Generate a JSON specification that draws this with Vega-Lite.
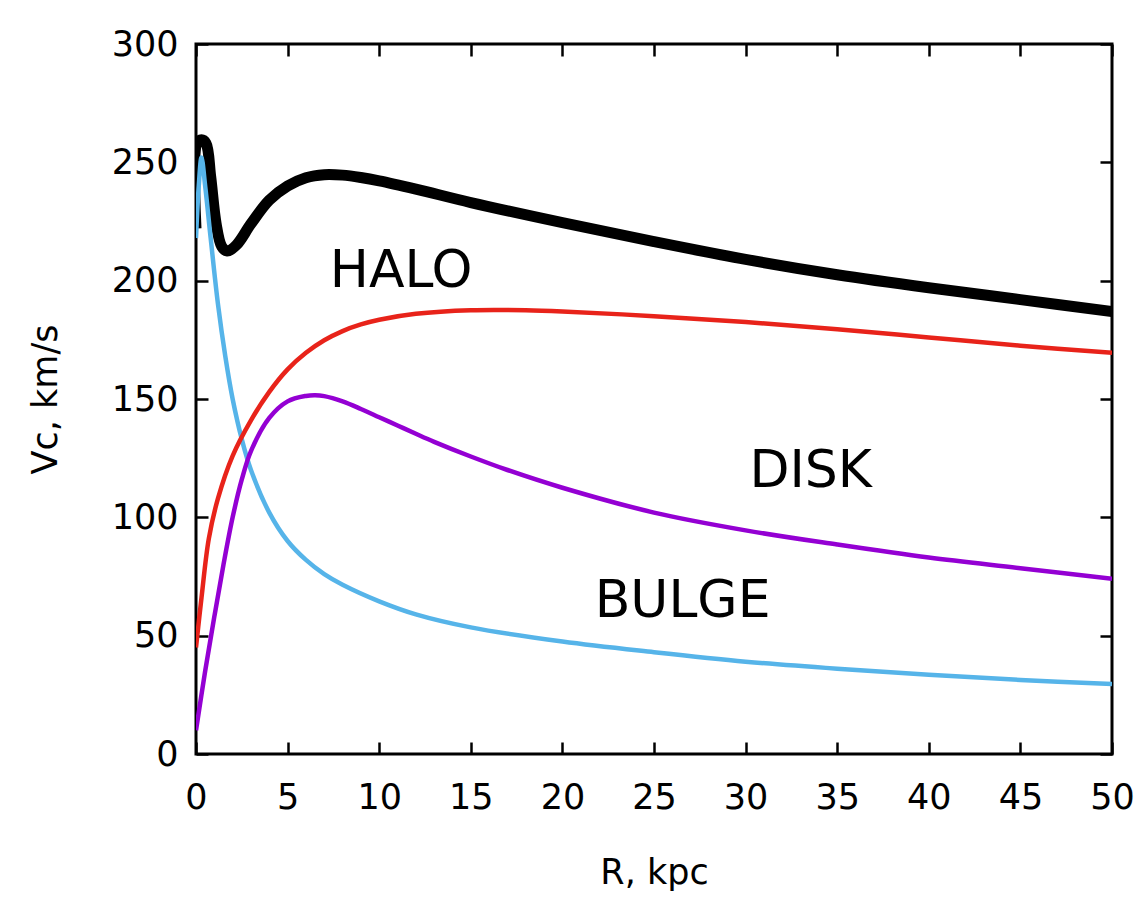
{
  "$schema": "https://vega.github.io/schema/vega-lite/v6.json",
  "width": 916,
  "height": 710,
  "autosize": "none",
  "padding": {"left": 196, "top": 44, "right": 29, "bottom": 144},
  "background": "white",
  "config": {
    "font": "DejaVu Sans",
    "view": {"stroke": "black", "strokeWidth": 3},
    "axis": {"grid": false, "domain": false, "tickColor": "black", "tickWidth": 2.5, "labelColor": "black", "titleColor": "black", "labelFont": "DejaVu Sans", "titleFont": "DejaVu Sans", "titleFontWeight": "normal", "labelFlush": false}
  },
  "datasets": {
    "halo": [
      {"R": 0, "V": 222}, {"R": 0.05, "V": 258}, {"R": 0.3, "V": 259.5}, {"R": 0.55, "V": 258},
      {"R": 0.8, "V": 244}, {"R": 1.1, "V": 224}, {"R": 1.4, "V": 214.5}, {"R": 1.7, "V": 212.5},
      {"R": 2.2, "V": 215}, {"R": 3, "V": 224}, {"R": 4, "V": 234}, {"R": 5, "V": 240},
      {"R": 6, "V": 243.5}, {"R": 7, "V": 244.8}, {"R": 8, "V": 244.6}, {"R": 9, "V": 243.6}, {"R": 10, "V": 242.2},
      {"R": 12, "V": 238.7}, {"R": 15, "V": 233}, {"R": 20, "V": 224.5}, {"R": 25, "V": 216.5},
      {"R": 30, "V": 209}, {"R": 35, "V": 202.5}, {"R": 40, "V": 197}, {"R": 45, "V": 192},
      {"R": 50, "V": 187}
    ],
    "bulge": [
      {"R": 0, "V": 218}, {"R": 0.15, "V": 240}, {"R": 0.3, "V": 252}, {"R": 0.5, "V": 240},
      {"R": 0.8, "V": 218}, {"R": 1.2, "V": 190}, {"R": 1.6, "V": 168}, {"R": 2, "V": 150},
      {"R": 2.5, "V": 133}, {"R": 3, "V": 120}, {"R": 4, "V": 102}, {"R": 5, "V": 90},
      {"R": 6, "V": 82}, {"R": 7, "V": 76}, {"R": 8, "V": 71.5}, {"R": 10, "V": 64.5},
      {"R": 12, "V": 59}, {"R": 15, "V": 53.5}, {"R": 20, "V": 47.5}, {"R": 25, "V": 43},
      {"R": 30, "V": 39}, {"R": 35, "V": 36}, {"R": 40, "V": 33.5}, {"R": 45, "V": 31.3},
      {"R": 50, "V": 29.6}
    ],
    "red": [
      {"R": 0, "V": 45}, {"R": 0.3, "V": 66}, {"R": 0.7, "V": 91}, {"R": 1.2, "V": 108},
      {"R": 2, "V": 126}, {"R": 3, "V": 141}, {"R": 4, "V": 153}, {"R": 5, "V": 162.5},
      {"R": 6, "V": 169.5}, {"R": 7, "V": 174.8}, {"R": 8, "V": 178.7}, {"R": 9, "V": 181.5}, {"R": 10, "V": 183.5},
      {"R": 12, "V": 186}, {"R": 15, "V": 187.5}, {"R": 18, "V": 187.5}, {"R": 20, "V": 187},
      {"R": 25, "V": 185}, {"R": 30, "V": 182.5}, {"R": 35, "V": 179.5}, {"R": 40, "V": 176},
      {"R": 45, "V": 172.5}, {"R": 50, "V": 169.5}
    ],
    "purple": [
      {"R": 0, "V": 10}, {"R": 0.5, "V": 35}, {"R": 1, "V": 58}, {"R": 1.5, "V": 80},
      {"R": 2, "V": 100}, {"R": 2.5, "V": 116}, {"R": 3, "V": 128}, {"R": 4, "V": 142},
      {"R": 5, "V": 149}, {"R": 6, "V": 151.3}, {"R": 6.5, "V": 151.6}, {"R": 7, "V": 151.2}, {"R": 8, "V": 149},
      {"R": 9, "V": 145.8}, {"R": 10, "V": 142.3}, {"R": 11, "V": 138.8}, {"R": 12, "V": 135.3}, {"R": 13, "V": 131.9},
      {"R": 15, "V": 125.7}, {"R": 17, "V": 120}, {"R": 20, "V": 112.5},
      {"R": 25, "V": 102}, {"R": 30, "V": 94.5}, {"R": 35, "V": 88.5}, {"R": 40, "V": 83},
      {"R": 45, "V": 78.5}, {"R": 50, "V": 74}
    ],
    "labels": [
      {"R": 11.2, "V": 204, "label": "HALO"},
      {"R": 33.55, "V": 119.6, "label": "DISK"},
      {"R": 26.56, "V": 64.6, "label": "BULGE"}
    ]
  },
  "layer": [
    {
      "data": {"name": "halo"},
      "mark": {"type": "line", "color": "black", "strokeWidth": 11, "interpolate": "catmull-rom", "clip": true},
      "encoding": {
        "x": {"field": "R", "type": "quantitative", "scale": {"domain": [0, 50], "nice": false},
              "axis": {"orient": "bottom", "values": [0,5,10,15,20,25,30,35,40,45,50], "tickSize": -12, "labelPadding": 38, "labelFontSize": 35, "title": "R, kpc", "titleFontSize": 35, "titlePadding": 40}},
        "y": {"field": "V", "type": "quantitative", "scale": {"domain": [0, 300], "nice": false},
              "axis": {"orient": "left", "values": [0,50,100,150,200,250,300], "tickSize": -12, "labelPadding": 30, "labelFontSize": 35, "title": "Vc, km/s", "titleFontSize": 35, "titlePadding": 48}}
      }
    },
    {
      "data": {"name": "bulge"},
      "mark": {"type": "line", "color": "#56b4e9", "strokeWidth": 4.5, "interpolate": "catmull-rom", "clip": true},
      "encoding": {
        "x": {"field": "R", "type": "quantitative", "scale": {"domain": [0, 50], "nice": false},
              "axis": {"orient": "top", "values": [0,5,10,15,20,25,30,35,40,45,50], "tickSize": -12, "labels": false, "title": null}},
        "y": {"field": "V", "type": "quantitative", "scale": {"domain": [0, 300], "nice": false},
              "axis": {"orient": "right", "values": [0,50,100,150,200,250,300], "tickSize": -12, "labels": false, "title": null}}
      }
    },
    {
      "data": {"name": "red"},
      "mark": {"type": "line", "color": "#e8231a", "strokeWidth": 4.5, "interpolate": "catmull-rom", "clip": true},
      "encoding": {
        "x": {"field": "R", "type": "quantitative", "axis": null},
        "y": {"field": "V", "type": "quantitative", "axis": null}
      }
    },
    {
      "data": {"name": "purple"},
      "mark": {"type": "line", "color": "#9400d3", "strokeWidth": 4.5, "interpolate": "catmull-rom", "clip": true},
      "encoding": {
        "x": {"field": "R", "type": "quantitative", "axis": null},
        "y": {"field": "V", "type": "quantitative", "axis": null}
      }
    },
    {
      "data": {"name": "labels"},
      "mark": {"type": "text", "font": "DejaVu Sans", "fontSize": 52, "color": "black", "align": "center", "baseline": "middle"},
      "encoding": {
        "x": {"field": "R", "type": "quantitative", "axis": null},
        "y": {"field": "V", "type": "quantitative", "axis": null},
        "text": {"field": "label"}
      }
    }
  ],
  "resolve": {"axis": {"x": "independent", "y": "independent"}}
}
